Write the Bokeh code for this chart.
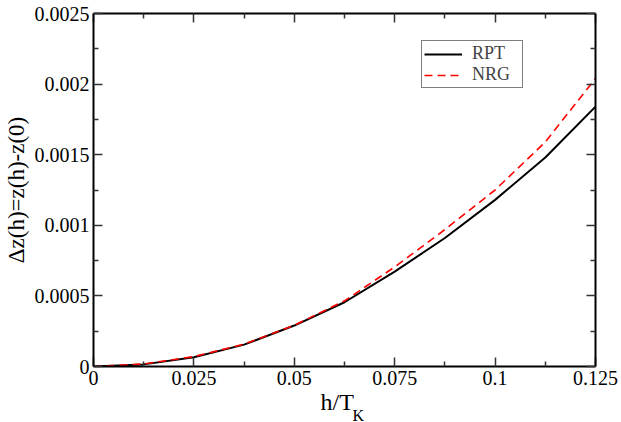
from bokeh.plotting import figure
from bokeh.models import (ColumnDataSource, FixedTicker, LinearAxis, Range1d,
                          Legend, LegendItem, Title)
from bokeh.embed import file_html
from bokeh.resources import INLINE

# data
h_over_tk = [0.0, 0.0125, 0.025, 0.0375, 0.05, 0.0625, 0.075, 0.0875, 0.1, 0.1125, 0.125]
rpt = [0.0, 0.000015, 0.000065, 0.000155, 0.00029, 0.000455, 0.000672, 0.00091, 0.00118, 0.00148, 0.00184]
nrg = [0.0, 0.000018, 0.00007, 0.000158, 0.000292, 0.000465, 0.000705, 0.00097, 0.00125, 0.00159, 0.00204]

x_ticks = [0, 0.025, 0.05, 0.075, 0.1, 0.125]
x_tick_labels = ["0", "0.025", "0.05", "0.075", "0.1", "0.125"]
x_minor = [0.0125, 0.0375, 0.0625, 0.0875, 0.1125]
y_ticks = [0, 0.0005, 0.001, 0.0015, 0.002, 0.0025]
y_tick_labels = ["0", "0.0005", "0.001", "0.0015", "0.002", "0.0025"]
y_minor = [0.00025, 0.00075, 0.00125, 0.00175, 0.00225]

FONT = "Liberation Serif"

src = ColumnDataSource(dict(x=h_over_tk, rpt=rpt, nrg=nrg))

p = figure(frame_width=502, frame_height=353, output_backend="svg", toolbar_location=None,
           x_range=Range1d(0, 0.125), y_range=Range1d(0, 0.0025),
           x_axis_location=None, y_axis_location=None,
           min_border_left=93, min_border_right=26, min_border_top=13, min_border_bottom=56)
p.grid.visible = False
p.outline_line_color = None
p.background_fill_color = "white"
p.border_fill_color = "white"


def make_axis(ticks, minor, labels, show_labels, axis_label=""):
    ax = LinearAxis(ticker=FixedTicker(ticks=ticks, minor_ticks=minor))
    ax.axis_line_width = 2
    ax.axis_line_color = "black"
    ax.major_tick_in = 9
    ax.major_tick_out = 0
    ax.minor_tick_in = 5
    ax.minor_tick_out = 0
    ax.major_tick_line_width = 1.5
    ax.minor_tick_line_width = 1.5
    ax.major_tick_line_color = "#333333"
    ax.minor_tick_line_color = "#333333"
    if show_labels:
        ax.major_label_overrides = {t: l for t, l in zip(ticks, labels)}
        ax.major_label_text_font = FONT
        ax.major_label_text_font_size = "20px"
        ax.major_label_text_color = "black"
        ax.major_label_standoff = 4
    else:
        ax.major_label_text_font_size = "0px"
        ax.major_label_text_alpha = 0
        ax.major_label_standoff = 0
    ax.axis_label = axis_label
    if axis_label:
        ax.axis_label_text_font = FONT
        ax.axis_label_text_font_size = "23px"
        ax.axis_label_text_font_style = "normal"
        ax.axis_label_text_color = "black"
        ax.axis_label_standoff = 3
    return ax


p.add_layout(make_axis(x_ticks, x_minor, x_tick_labels, True), "below")
p.add_layout(make_axis(y_ticks, y_minor, y_tick_labels, True, "Δz(h)=z(h)-z(0)"), "left")
p.add_layout(make_axis(x_ticks, x_minor, x_tick_labels, False), "above")
p.add_layout(make_axis(y_ticks, y_minor, y_tick_labels, False), "right")

# x axis label "h/T" with subscript "K"
p.add_layout(Title(text="h/T", align="left", offset=227, standoff=-2,
                   text_font=FONT, text_font_size="24px", text_font_style="normal",
                   text_color="black"), "below")
p.add_layout(Title(text="K", align="left", offset=259, standoff=-20,
                   text_font=FONT, text_font_size="16px", text_font_style="normal",
                   text_color="black"), "below")

r1 = p.line("x", "rpt", source=src, line_color="black", line_width=2)
r2 = p.line("x", "nrg", source=src, line_color="red", line_width=1.6, line_dash="8 5")

legend = Legend(items=[LegendItem(label="RPT", renderers=[r1]),
                       LegendItem(label="NRG", renderers=[r2])],
                location=(328, 278))
legend.label_text_font = FONT
legend.label_text_font_size = "18px"
legend.glyph_width = 38
legend.glyph_height = 18
legend.label_height = 18
legend.label_width = 48
legend.label_standoff = 10
legend.spacing = 0
legend.padding = 2
legend.margin = 0
legend.border_line_color = "black"
legend.border_line_width = 1.2
legend.background_fill_alpha = 1
p.add_layout(legend, "center")

open("out.html", "w").write(file_html(p, INLINE))
